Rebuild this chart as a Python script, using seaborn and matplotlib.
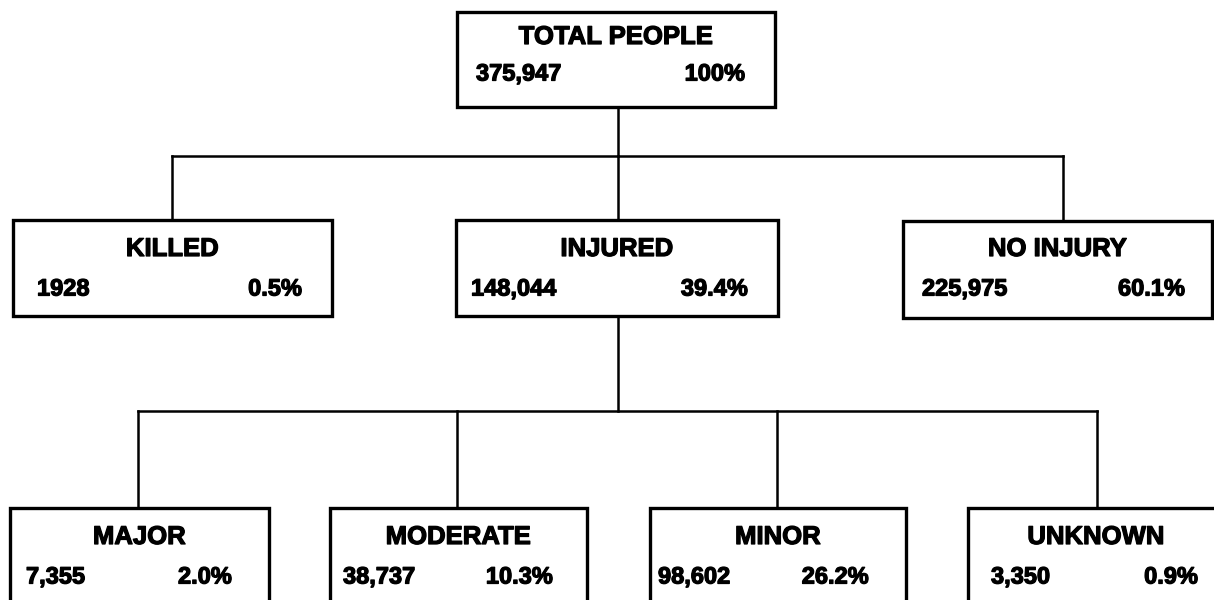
import matplotlib
matplotlib.use("Agg")
import matplotlib.pyplot as plt
import matplotlib.patheffects as pe
from matplotlib.patches import Rectangle
import seaborn as sns

# ====== data ======
labels = ["TOTAL PEOPLE", "KILLED", "INJURED", "NO INJURY",
          "MAJOR", "MODERATE", "MINOR", "UNKNOWN"]
counts = ["375,947", "1928", "148,044", "225,975",
          "7,355", "38,737", "98,602", "3,350"]
percents = ["100%", "0.5%", "39.4%", "60.1%",
            "2.0%", "10.3%", "26.2%", "0.9%"]
parents = [None, 0, 0, 0, 2, 2, 2, 2]

# ====== layout (pixel space, y downwards) ======
# box: left, top, right, bottom
boxes = [
    (457, 12, 775, 107),
    (13, 220, 332, 316),
    (456, 220, 778, 316),
    (903, 221, 1212, 318),
    (10, 508, 269, 640),
    (330, 508, 587, 640),
    (650, 508, 906, 640),
    (968, 508, 1224, 640),
]
# where the connector meets each box
attach_x = [618, 172, 618, 1063, 138, 457, 777, 1097]
# text positions: label y, numbers y, number left x, percent right x
label_y = [37, 249, 249, 249, 537, 537, 537, 537]
num_y = [74, 289, 289, 289, 577, 577, 577, 577]
num_left = [476, 37, 471, 922, 26, 343, 658, 991]
pct_right = [745, 302, 748, 1185, 232, 553, 869, 1198]
bus_y = {0: 156, 2: 411}

sns.set_theme(style="white")
plt.rcParams["font.family"] = ["Liberation Sans", "DejaVu Sans"]
plt.rcParams["text.color"] = "black"

fig = plt.figure(figsize=(12.14, 6.0), dpi=100)
ax = fig.add_axes([0, 0, 1, 1])
ax.set_xlim(0, 1214)
ax.set_ylim(600, 0)
ax.axis("off")

# connectors
line_kw = dict(color="black", lw=1.8, solid_capstyle="projecting")
for p, y in bus_y.items():
    kids = [i for i, q in enumerate(parents) if q == p]
    xs = [attach_x[i] for i in kids]
    ax.plot([attach_x[p], attach_x[p]], [boxes[p][3], y], **line_kw)
    ax.plot([min(xs), max(xs)], [y, y], **line_kw)
    for i in kids:
        ax.plot([attach_x[i], attach_x[i]], [y, boxes[i][1]], **line_kw)

# heavier lettering like the original
heavy = [pe.withStroke(linewidth=0.9, foreground="black")]

# boxes and texts
for i, (l, t, r, b) in enumerate(boxes):
    ax.add_patch(Rectangle((l, t), r - l, b - t, fill=True, facecolor="white",
                           edgecolor="black", lw=2.4, zorder=3))
    cx = (l + r) / 2
    ax.text(cx, label_y[i], labels[i], ha="center", va="center", color="black",
            fontsize=18.5, fontweight="bold", zorder=4, path_effects=heavy)
    ax.text(num_left[i], num_y[i], counts[i], ha="left", va="center", color="black",
            fontsize=17, fontweight="bold", zorder=4, path_effects=heavy)
    ax.text(pct_right[i], num_y[i], percents[i], ha="right", va="center", color="black",
            fontsize=17, fontweight="bold", zorder=4, path_effects=heavy)

fig.savefig("out.png", dpi=100, facecolor="white")
